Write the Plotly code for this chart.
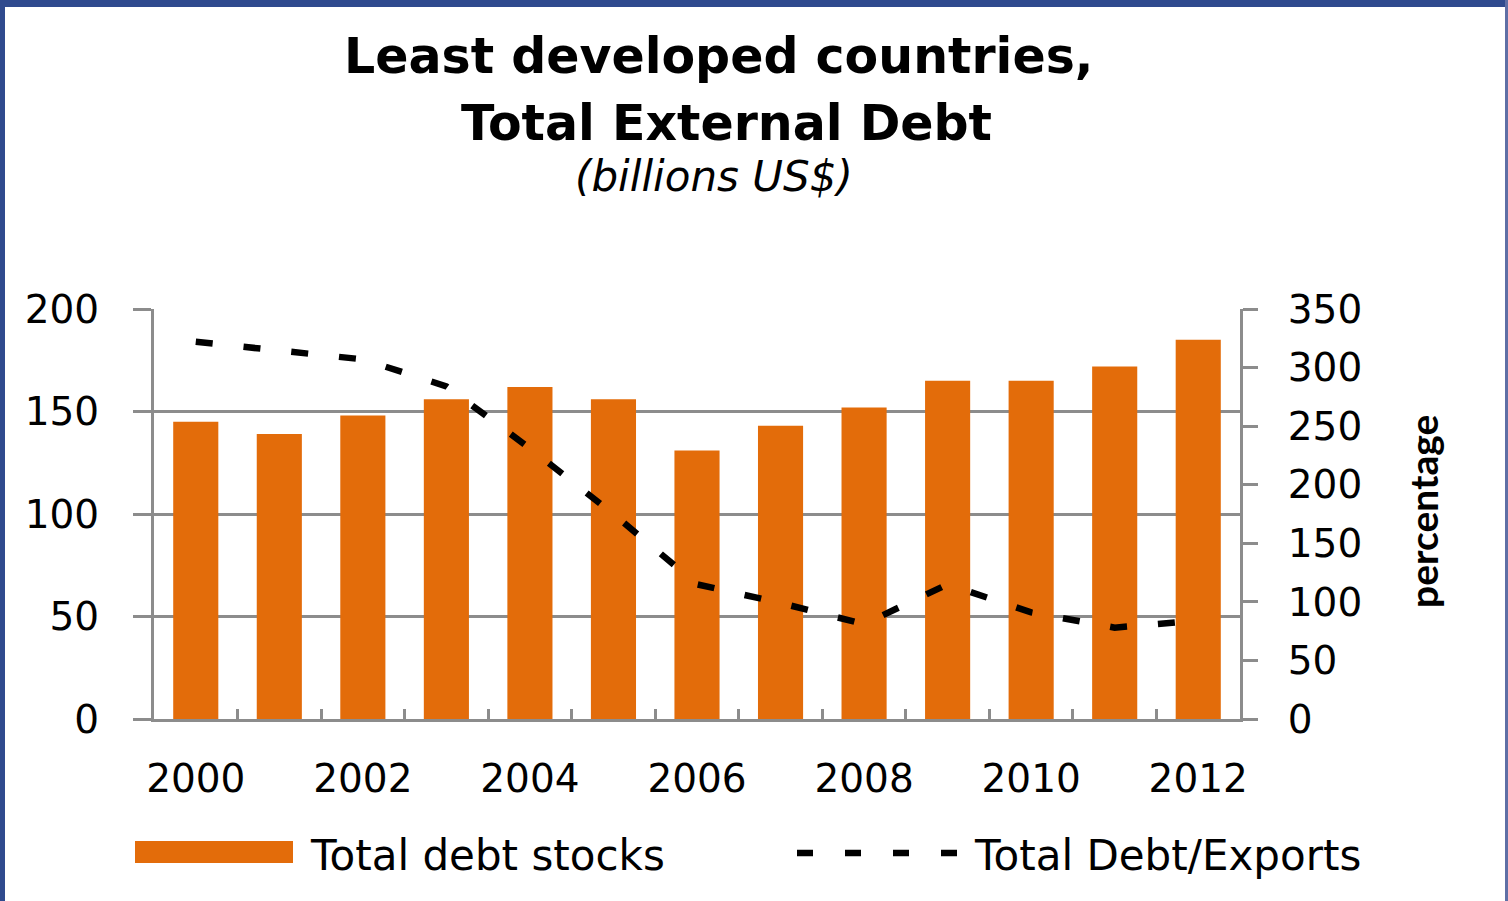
import plotly.graph_objects as go

# ---------------- data ----------------
years = ['2000', '2001', '2002', '2003', '2004', '2005', '2006',
         '2007', '2008', '2009', '2010', '2011', '2012']
debt_stocks = [145, 139, 148, 156, 162, 156, 131, 143, 152, 165, 165, 172, 185]
debt_exports = [322, 314, 307, 284, 231, 175, 115, 99, 81, 115, 91, 78, 84]
x_tick_text = ['2000', '', '2002', '', '2004', '', '2006', '',
               '2008', '', '2010', '', '2012']
y_ticks = [0, 50, 100, 150, 200]
y2_ticks = [0, 50, 100, 150, 200, 250, 300, 350]

title_line1 = 'Least developed countries,'
title_line2 = 'Total External Debt'
subtitle = '(billions US$)'
bar_name = 'Total debt stocks'
line_name = 'Total Debt/Exports'
y2_title = 'percentage'

# ---------------- style ----------------
ORANGE = '#E36C0A'
GRAY = '#8C8C8C'
BLUE = '#2F4A8E'
FONT = 'DejaVu Sans'

W, H = 1508, 901
L, R, T, B = 154, 1240, 309, 719
PW, PH = R - L, B - T


def px(x):
    return (x - L) / PW


def py(y):
    return (B - y) / PH


fig = go.Figure()
fig.add_trace(go.Bar(x=years, y=debt_stocks, name=bar_name,
                     marker=dict(color=ORANGE, line=dict(width=0))))
fig.add_trace(go.Scatter(x=years, y=debt_exports, name=line_name, yaxis='y2',
                         mode='lines',
                         line=dict(color='black', width=6.5, dash='17px,31px')))

tickfont = dict(family=FONT, size=39, color='black')

fig.update_layout(
    width=W, height=H,
    margin=dict(l=L, r=W - R, t=T, b=H - B, pad=0),
    paper_bgcolor='white', plot_bgcolor='white',
    showlegend=False,
    bargap=0.46,
    xaxis=dict(type='category', tickmode='array', tickvals=years, ticktext=x_tick_text,
               tickson='boundaries', ticks='inside', ticklen=10, tickwidth=3,
               tickcolor=GRAY, showline=True, linecolor=GRAY, linewidth=3,
               showgrid=False, tickfont=tickfont, tickangle=0, ticklabelstandoff=23),
    yaxis=dict(range=[0, 200], tickmode='array', tickvals=y_ticks,
               ticks='outside', ticklen=18, tickwidth=3, tickcolor=GRAY,
               showline=True, linecolor=GRAY, linewidth=3,
               showgrid=True, gridcolor=GRAY, gridwidth=3, zeroline=False,
               tickfont=tickfont, ticklabelstandoff=26),
    yaxis2=dict(range=[0, 350], tickmode='array', tickvals=y2_ticks,
                overlaying='y', side='right',
                ticks='outside', ticklen=15, tickwidth=3, tickcolor=GRAY,
                showline=True, linecolor=GRAY, linewidth=3,
                showgrid=False, zeroline=False,
                tickfont=tickfont, ticklabelstandoff=22),
)

annotations = [
    dict(text='<b>' + title_line1 + '</b>', x=px(718), y=py(57),
         font=dict(family=FONT, size=49, color='black')),
    dict(text='<b>' + title_line2 + '</b>', x=px(726), y=py(123),
         font=dict(family=FONT, size=49, color='black')),
    dict(text='<i>' + subtitle + '</i>', x=px(714), y=py(177),
         font=dict(family=FONT, size=42, color='black')),
    dict(text='<b>' + y2_title + '</b>', x=px(1423), y=py(512), textangle=-90,
         font=dict(family='Lato', size=39, color='black')),
    dict(text=bar_name, x=px(308), y=py(855), xanchor='left',
         font=dict(family=FONT, size=42, color='black')),
    dict(text=line_name, x=px(972), y=py(855), xanchor='left',
         font=dict(family=FONT, size=42, color='black')),
]
for a in annotations:
    a.setdefault('xanchor', 'center')
    a.update(xref='paper', yref='paper', yanchor='middle', showarrow=False)
fig.update_layout(annotations=annotations)

shapes = [
    # legend swatches
    dict(type='rect', x0=px(135), x1=px(293), y0=py(863), y1=py(841),
         fillcolor=ORANGE, line=dict(width=0)),
    dict(type='line', x0=px(797), x1=px(961), y0=py(853), y1=py(853),
         line=dict(color='black', width=6.5, dash='16px,32px')),
    # frame
    dict(type='rect', x0=px(0), x1=px(W), y0=py(0), y1=py(7),
         fillcolor=BLUE, line=dict(width=0)),
    dict(type='rect', x0=px(0), x1=px(5), y0=py(0), y1=py(H),
         fillcolor=BLUE, line=dict(width=0)),
    dict(type='rect', x0=px(1505), x1=px(W), y0=py(0), y1=py(H),
         fillcolor='#5F6FA5', line=dict(width=0)),
]
for s in shapes:
    s.update(xref='paper', yref='paper', layer='above')
fig.update_layout(shapes=shapes)

fig.write_html('out.html')
